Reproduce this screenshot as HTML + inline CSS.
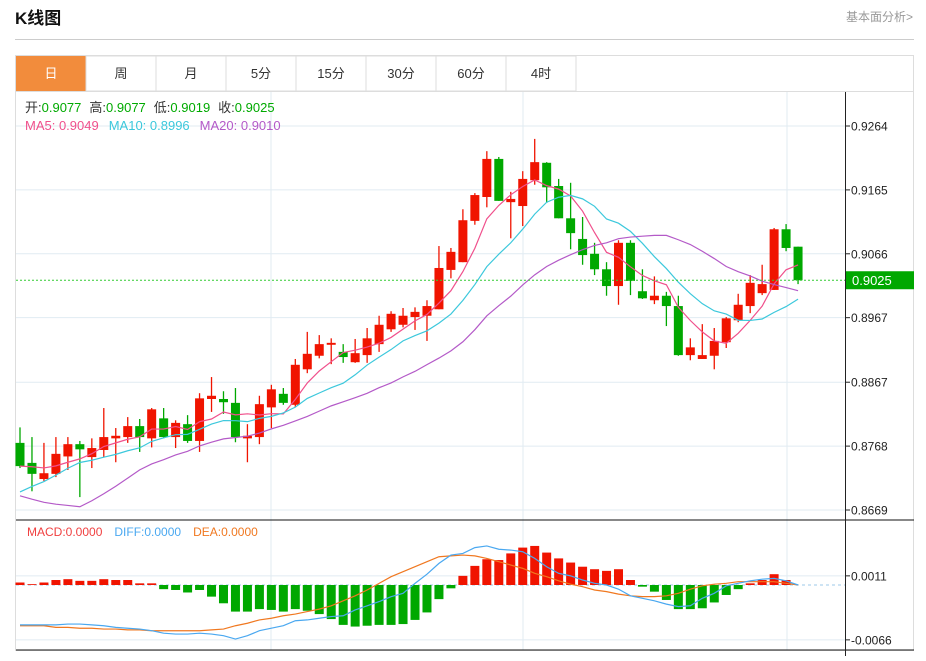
<!DOCTYPE html>
<html><head><meta charset="utf-8"><style>
body{margin:0;background:#fff;width:926px;height:656px;overflow:hidden;font-family:"Liberation Sans","Noto Sans CJK SC",sans-serif;}
svg text{font-family:"Liberation Sans","Noto Sans CJK SC",sans-serif;}
</style></head><body>
<svg id="chart" width="926" height="656" xmlns="http://www.w3.org/2000/svg">
<text x="15" y="24" font-size="17" font-weight="bold" fill="#111">K线图</text>
<text x="913" y="21" font-size="12" fill="#999" text-anchor="end">基本面分析&gt;</text>
<line x1="15" y1="39.5" x2="914" y2="39.5" stroke="#ccc"/>
<rect x="15.5" y="55.5" width="898" height="595" fill="none" stroke="#ddd"/>
<g id="tabs"></g>
<g id="grid"></g>
<g id="candles"></g>
<g id="ma"></g>
<g id="macd"></g>
<g id="axis"></g>
<text x="25" y="112" font-size="13"><tspan fill="#333">开:</tspan><tspan fill="#0a0">0.9077</tspan><tspan fill="#333" dx="8">高:</tspan><tspan fill="#0a0">0.9077</tspan><tspan fill="#333" dx="8">低:</tspan><tspan fill="#0a0">0.9019</tspan><tspan fill="#333" dx="8">收:</tspan><tspan fill="#0a0">0.9025</tspan></text>
<text x="25" y="130" font-size="13"><tspan fill="#f0508c">MA5: 0.9049</tspan><tspan fill="#3cc8dc" dx="10">MA10: 0.8996</tspan><tspan fill="#b45ac8" dx="10">MA20: 0.9010</tspan></text>
<text x="27" y="536" font-size="12"><tspan fill="#f04040">MACD:0.0000</tspan><tspan fill="#4aa8f0" dx="12">DIFF:0.0000</tspan><tspan fill="#f07820" dx="12">DEA:0.0000</tspan></text>
</svg>
<script>
const NS="http://www.w3.org/2000/svg";
const opens=[.8773,.8742,.8717,.8725,.8752,.8771,.8751,.8762,.8780,.8782,.8799,.8780,.8811,.8782,.8802,.8776,.8841,.8841,.8835,.8780,.8782,.8828,.8849,.8832,.8887,.8908,.8925,.8914,.8898,.8909,.8926,.8949,.8956,.8968,.8970,.8980,.9041,.9053,.9117,.9154,.9213,.9146,.9140,.9180,.9207,.9171,.9121,.9089,.9066,.9042,.9016,.9083,.9008,.8994,.9001,.8985,.8909,.8903,.8908,.8929,.8963,.8985,.9005,.9010,.9104,.9077];
const highs=[.8797,.8782,.8773,.8782,.8782,.8776,.8780,.8827,.8796,.8813,.8810,.8827,.8827,.8808,.8816,.8850,.8875,.8853,.8858,.8802,.8846,.8863,.8858,.8903,.8945,.8940,.8935,.8926,.8934,.8951,.8970,.8977,.8982,.8983,.8994,.9078,.9075,.9135,.9160,.9225,.9216,.9162,.9194,.9244,.9208,.9182,.9176,.9123,.9083,.9053,.9087,.9087,.9042,.9031,.9007,.9001,.8935,.8957,.8951,.8968,.9004,.9033,.9049,.9106,.9112,.9077];
const lows=[.8734,.8698,.8714,.8720,.8731,.8689,.8734,.8751,.8743,.8773,.8759,.8766,.8780,.8765,.8773,.8759,.8821,.8818,.8774,.8743,.8771,.8796,.8832,.8828,.8881,.8904,.8895,.8897,.8897,.8897,.8914,.8945,.8952,.8948,.8931,.8980,.9028,.9053,.9111,.9138,.9148,.9090,.9109,.9173,.9145,.9121,.9073,.9049,.9033,.9001,.8987,.9002,.8996,.8988,.8954,.8908,.8901,.8903,.8887,.8920,.8960,.8974,.9002,.9010,.9070,.9019];
const closes=[.8737,.8725,.8726,.8756,.8771,.8763,.8765,.8782,.8784,.8799,.8782,.8825,.8782,.8804,.8776,.8842,.8846,.8836,.8782,.8784,.8833,.8856,.8835,.8894,.8911,.8926,.8928,.8906,.8912,.8935,.8956,.8973,.8970,.8976,.8985,.9044,.9069,.9118,.9157,.9213,.9148,.9151,.9182,.9208,.9169,.9121,.9098,.9064,.9042,.9016,.9083,.9024,.8997,.9001,.8985,.8909,.8921,.8909,.8931,.8966,.8987,.9021,.9019,.9104,.9075,.9025];
const priorCloses=[.8830,.8822,.8815,.8810,.8803,.8580,.8565,.8552,.8545,.8528,.8640,.8650,.8657,.8664,.8674,.8730,.8735,.8740,.8743];
const macdBars=[.0003,.0001,.0003,.0006,.0007,.0005,.0005,.0007,.0006,.0006,.0002,.0002,-.0005,-.0006,-.0009,-.0006,-.0014,-.0022,-.0032,-.0032,-.0029,-.0030,-.0032,-.0029,-.0031,-.0035,-.0041,-.0048,-.0050,-.0049,-.0048,-.0048,-.0047,-.0042,-.0033,-.0017,-.0004,.0011,.0023,.0031,.0030,.0038,.0045,.0047,.0039,.0032,.0027,.0022,.0019,.0017,.0019,.0006,-.0002,-.0008,-.0018,-.0029,-.0029,-.0028,-.0021,-.0012,-.0005,.0002,.0006,.0013,.0006,0];
const diffVals=[-.0048,-.0048,-.0048,-.0048,-.0047,-.0047,-.0048,-.0049,-.0051,-.0052,-.0053,-.0055,-.0058,-.0059,-.0059,-.0058,-.0059,-.0061,-.0065,-.0061,-.0055,-.0052,-.0049,-.0043,-.0042,-.0040,-.0038,-.0037,-.0030,-.0025,-.0020,-.0014,-.0010,.0002,.0013,.0026,.0036,.0038,.0045,.0047,.0043,.0042,.0040,.0032,.0022,.0014,.0011,.0006,.0002,0,-.0005,-.0013,-.0016,-.0019,-.0023,-.0026,-.0025,-.0016,-.0010,-.0001,.0002,.0005,.0007,.0008,.0005,0];
const deaVals=[-.0049,-.0049,-.0049,-.0051,-.0051,-.0052,-.0052,-.0053,-.0053,-.0054,-.0054,-.0055,-.0055,-.0055,-.0055,-.0055,-.0054,-.0053,-.0049,-.0046,-.0042,-.0040,-.0037,-.0035,-.0032,-.0029,-.0025,-.0019,-.0013,-.0006,.0002,.0010,.0016,.0022,.0028,.0034,.0035,.0036,.0035,.0032,.0028,.0024,.0020,.0014,.0010,.0005,.0001,-.0002,-.0006,-.0008,-.0011,-.0013,-.0014,-.0014,-.0013,-.0010,-.0005,-.0001,.0001,.0002,.0004,.0004,.0004,.0004,.0002,0];
const priceTicks=[0.9264,0.9165,0.9066,0.8967,0.8867,0.8768,0.8669];
const priceTickLabels=["0.9264","0.9165","0.9066","0.8967","0.8867","0.8768","0.8669"];
const macdTicks=[0.0011,-0.0066];
const macdTickLabels=["0.0011","-0.0066"];
const tabLabels=["日","周","月","5分","15分","30分","60分","4时"];
const lastPrice=0.9025, lastPriceLabel="0.9025";

const yP=p=>126+(0.9264-p)*6453.8;
const yM=v=>585-v*8312;
const xI=i=>20+i*11.97;
const RED="#f01400",GREEN="#00a800";
function mk(tag,attrs,parent){const e=document.createElementNS(NS,tag);for(const k in attrs)e.setAttribute(k,attrs[k]);parent.appendChild(e);return e;}
const $=id=>document.getElementById(id);

// tabs
const tabs=$("tabs");
tabLabels.forEach((t,i)=>{
  const x=16+i*70;
  const r=mk("rect",{x:x,y:56,width:70,height:35,fill:i===0?"#f28c3c":"#fff",stroke:i===0?"none":"#ddd"},tabs);
  
  
  const tx=mk("text",{x:x+35,y:78,"font-size":13,"text-anchor":"middle",fill:i===0?"#fff":"#333"},tabs);
  tx.textContent=t;
  
  
});
mk("line",{x1:15,y1:91.5,x2:914,y2:91.5,stroke:"#ddd"},tabs);

// grid
const grid=$("grid");
priceTicks.forEach(p=>{const l=mk("line",{x1:16,x2:845,y1:yP(p),y2:yP(p),stroke:"#e1ebf2"},grid);});
macdTicks.forEach(v=>{const l=mk("line",{x1:16,x2:845,y1:yM(v),y2:yM(v),stroke:"#e1ebf2"},grid);});
[271,523,787].forEach(x=>mk("line",{x1:x,x2:x,y1:92,y2:650,stroke:"#e1ebf2"},grid));

// candles
const cg=$("candles");
closes.forEach((c,i)=>{
  const o=opens[i],up=c>=o,col=up?RED:GREEN,x=xI(i);
  const w=mk("line",{x1:x,x2:x,y1:yP(highs[i]),y2:yP(lows[i]),stroke:col,"stroke-width":1.3},cg);
  
  
  const top=yP(Math.max(o,c)),bot=yP(Math.min(o,c));
  const b=mk("rect",{x:x-4.5,y:top,width:9,height:Math.max(1.5,bot-top),fill:col},cg);
  
  
});

// moving averages
const all=priorCloses.concat(closes);
function ma(n){return closes.map((_,i)=>{let s=0;const j=i+priorCloses.length;for(let k=j-n+1;k<=j;k++)s+=all[k];return s/n;});}
[[5,"#f0508c"],[10,"#3cc8dc"],[20,"#b45ac8"]].forEach(([n,col])=>{
  const v=ma(n);
  const p=mk("polyline",{points:v.map((m,i)=>xI(i)+","+yP(m)).join(" "),fill:"none",stroke:col,"stroke-width":1.2},$("ma"));
  
  
});
// last price line
const lp=mk("line",{x1:16,x2:845,y1:yP(lastPrice),y2:yP(lastPrice),stroke:"#3c3","stroke-dasharray":"2,2"},$("ma"));



// macd
const mg=$("macd");
mk("line",{x1:16,x2:914,y1:520,y2:520,stroke:"#111"},mg);
mk("line",{x1:16,x2:914,y1:650,y2:650,stroke:"#111"},mg);
mk("line",{x1:16,x2:845,y1:yM(0),y2:yM(0),stroke:"#9cc8e8","stroke-dasharray":"3,3"},mg);
macdBars.forEach((v,i)=>{
  const y0=yM(0),y1=yM(v);
  const r=mk("rect",{x:xI(i)-4.5,y:Math.min(y0,y1),width:9,height:Math.abs(y1-y0),fill:v>=0?RED:GREEN},mg);
  
  
});
const dl=mk("polyline",{points:deaVals.map((v,i)=>xI(i)+","+yM(v)).join(" "),fill:"none",stroke:"#f07820","stroke-width":1.2},mg);


const fl=mk("polyline",{points:diffVals.map((v,i)=>xI(i)+","+yM(v)).join(" "),fill:"none",stroke:"#4aa8f0","stroke-width":1.2},mg);



// axis
const ax=$("axis");
mk("line",{x1:845.5,x2:845.5,y1:92,y2:656,stroke:"#222"},ax);
priceTicks.forEach((p,i)=>{
  mk("line",{x1:845,x2:850,y1:yP(p),y2:yP(p),stroke:"#222"},ax);
  const t=mk("text",{x:851,y:yP(p)+4.5,"font-size":12,fill:"#222"},ax);
  t.textContent=priceTickLabels[i];
  
  
});
macdTicks.forEach((v,i)=>{
  mk("line",{x1:845,x2:850,y1:yM(v),y2:yM(v),stroke:"#222"},ax);
  const t=mk("text",{x:851,y:yM(v)+4.5,"font-size":12,fill:"#222"},ax);
  t.textContent=macdTickLabels[i];
  
  
});
const lb=mk("rect",{x:846,y:yP(lastPrice)-9,width:68,height:18,fill:"#00a800"},ax);


const lt=mk("text",{x:852,y:yP(lastPrice)+5,"font-size":13,fill:"#fff"},ax);
lt.textContent=lastPriceLabel;


</script>
</body></html>
